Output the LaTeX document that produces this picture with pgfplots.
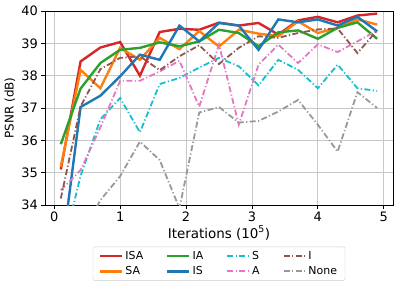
\documentclass[border=0pt]{standalone}
\usepackage{pgfplots}
\pgfplotsset{compat=1.18}
\usepackage{pgfplotstable}
\usepackage{fontspec}
\setmainfont{DejaVu Sans}
\definecolor{cRed}{HTML}{D62728}
\definecolor{cOrange}{HTML}{FF7F0E}
\definecolor{cGreen}{HTML}{2CA02C}
\definecolor{cBlue}{HTML}{1F77B4}
\definecolor{cCyan}{HTML}{17BECF}
\definecolor{cPink}{HTML}{E377C2}
\definecolor{cBrown}{HTML}{8C564B}
\definecolor{cGray}{HTML}{999999}
\definecolor{gridc}{HTML}{C8C8C8}
\definecolor{legc}{HTML}{CCCCCC}

\pgfplotstableread{
x    ISA   SA    IA    IS    S     A     I     None
0.1  35.10 35.18 35.88 32.30 32.40 34.46 34.20 32.50
0.4  38.44 38.18 37.60 37.03 34.90 35.08 37.05 33.00
0.7  38.87 37.61 38.39 37.38 36.65 36.40 38.20 34.15
1.0  39.04 38.86 38.80 37.98 37.31 37.84 38.55 34.89
1.3  38.00 38.49 38.86 38.65 36.25 37.84 38.60 35.96
1.6  39.35 39.17 39.03 38.49 37.74 38.13 38.17 35.39
1.9  39.45 38.82 38.91 39.55 37.93 38.46 38.60 33.90
2.2  39.42 39.38 39.06 39.06 38.25 37.04 38.94 36.86
2.5  39.64 38.90 39.42 39.63 38.55 38.96 38.36 37.03
2.8  39.55 39.42 39.32 39.55 38.29 36.48 38.86 36.55
3.1  39.63 39.30 38.91 38.80 37.70 38.34 39.22 36.60
3.4  39.27 39.22 39.34 39.74 38.49 38.96 39.17 36.89
3.7  39.71 39.68 39.40 39.65 38.18 38.39 39.32 37.25
4.0  39.82 39.32 39.14 39.74 37.61 38.97 39.43 36.48
4.3  39.65 39.48 39.48 39.55 38.34 38.73 39.46 35.65
4.6  39.86 39.74 39.65 39.82 37.61 39.06 38.70 37.49
4.9  39.92 39.58 39.14 39.37 37.53 39.40 39.40 37.00
}\datatable

\tikzset{
  solidl/.style={line width=2.4bp},
  dashdl/.style={line width=1.8bp, dash pattern=on 6bp off 2.4bp on 1.2bp off 2.4bp},
}

\begin{document}
\begin{tikzpicture}
\begin{axis}[
  scale only axis, width=348bp, height=194bp,
  xmin=-0.14, xmax=5.14, ymin=34, ymax=40,
  xtick={0,1,2,3,4,5}, ytick={34,35,36,37,38,39,40},
  tick align=outside, tick pos=left,
  major tick length=3.5bp,
  grid=major, major grid style={draw=gridc, line width=0.8bp},
  axis line style={line width=0.9bp},
  every tick/.style={black, line width=0.8bp},
  ticklabel style={font=\fontsize{13}{15}\selectfont},
  /pgf/number format/assume math mode=true,
  xlabel={Iterations (10\textsuperscript{5})},
  ylabel={PSNR (dB)},
  every axis x label/.style={at={(axis description cs:0.5,0)}, anchor=center, yshift=-28bp, font=\fontsize{13.5}{16}\selectfont},
  every axis y label/.style={at={(axis description cs:-0.1006,0.5)}, rotate=90, anchor=center, font=\fontsize{12}{14}\selectfont},
  legend columns=4,
  legend cell align=left,
  legend style={at={(0.5,-0.215)}, anchor=north, draw=legc, rounded corners=2bp, fill=white,
    font=\fontsize{11}{13}\selectfont, inner xsep=6bp, inner ysep=2.5bp, row sep=1.5bp,
    /tikz/every even column/.append style={column sep=21bp}},
  legend image code/.code={\draw[#1] (0bp,0bp) -- (22bp,0bp);},
]
\addplot[solidl, cRed, forget plot] table[x=x, y=ISA] {\datatable};
\addplot[solidl, cOrange, forget plot] table[x=x, y=SA] {\datatable};
\addplot[solidl, cGreen, forget plot] table[x=x, y=IA] {\datatable};
\addplot[solidl, cBlue, forget plot] table[x=x, y=IS] {\datatable};
\addplot[dashdl, cCyan, forget plot] table[x=x, y=S] {\datatable};
\addplot[dashdl, cPink, forget plot] table[x=x, y=A] {\datatable};
\addplot[dashdl, cBrown, forget plot] table[x=x, y=I] {\datatable};
\addplot[dashdl, cGray, forget plot] table[x=x, y=None] {\datatable};

\addlegendimage{solidl, cRed}\addlegendentry{ISA}
\addlegendimage{solidl, cGreen}\addlegendentry{IA}
\addlegendimage{dashdl, cCyan}\addlegendentry{S}
\addlegendimage{dashdl, cBrown}\addlegendentry{I}
\addlegendimage{solidl, cOrange}\addlegendentry{SA}
\addlegendimage{solidl, cBlue}\addlegendentry{IS}
\addlegendimage{dashdl, cPink}\addlegendentry{A}
\addlegendimage{dashdl, cGray}\addlegendentry{None}
\end{axis}
\pgfresetboundingbox
\path ([shift={(-45bp,-82bp)}]current axis.south west) rectangle ([shift={(6bp,11bp)}]current axis.north east);
\end{tikzpicture}
\end{document}
